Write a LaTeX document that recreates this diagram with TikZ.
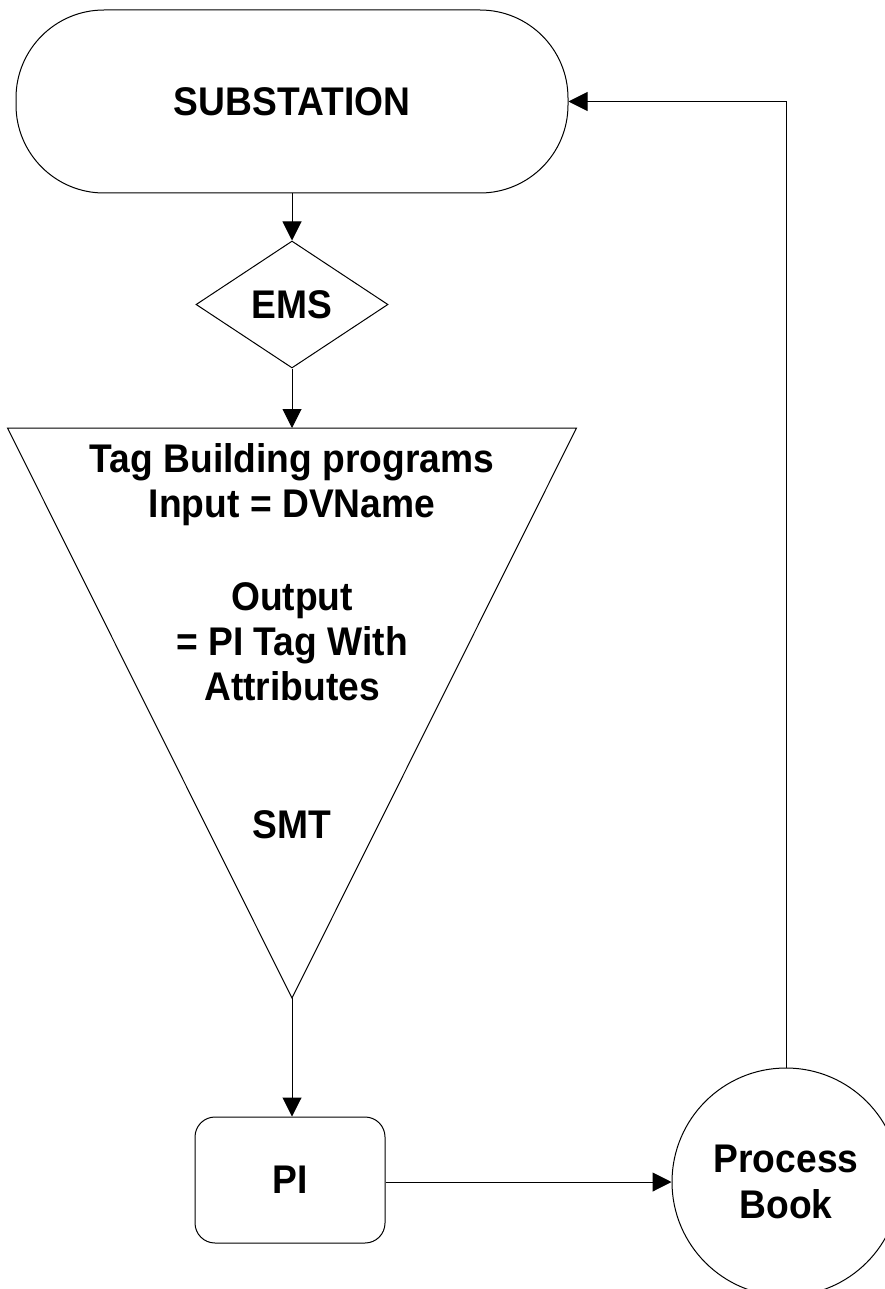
\documentclass[tikz,border=0pt]{standalone}
\usepackage{fontspec}
\newfontfamily\lab{Liberation Sans}[FakeStretch=0.93]
\usetikzlibrary{shapes.geometric,arrows.meta}
\begin{document}
\begin{tikzpicture}[x=1pt,y=-1pt,
  every node/.style={font=\lab\bfseries\fontsize{40}{46}\selectfont, text=black},
  shapeline/.style={draw=black,line width=1pt},
  conn/.style={draw=black,line width=1pt},
  arr/.style={conn,-{Triangle[length=19pt,width=19pt]}},
  lbl/.style={anchor=base, inner sep=0pt}
]
\useasboundingbox (0,0) rectangle (884,1289);
% shapes
\node[shapeline, rounded corners=88pt, minimum width=552pt, minimum height=183pt, inner sep=0pt] (sub) at (292,101.5) {SUBSTATION};
\node[shapeline, diamond, minimum width=192pt, minimum height=127pt, inner sep=0pt] (ems) at (292,304.5) {EMS};
\coordinate (tl) at (7.5,428);
\coordinate (tr) at (576.5,428);
\coordinate (tb) at (292,998);
\coordinate (ttop) at (292,428);
\draw[shapeline] (tl) -- (tr) -- (tb) -- cycle;
\node[lbl] (t1) at (292,472) {Tag Building programs};
\node[lbl] (t2) at (292,517) {Input = DVName};
\node[lbl] (t3) at (292,610) {Output};
\node[lbl] (t4) at (292,655) {= PI Tag With};
\node[lbl] (t5) at (292,700) {Attributes};
\node[lbl] (t6) at (292,838) {SMT};
\node[shapeline, rounded corners=20pt, minimum width=190pt, minimum height=126pt] (pi) at (290,1180) {PI};
\node[shapeline, circle, minimum size=228pt, align=center, inner sep=0pt] (pb) at (786,1182) {Process\\Book};
% connectors
\draw[arr] (sub.south) -- (ems.north);
\draw[arr] (ems.south) -- (ttop);
\draw[arr] (tb) -- (tb |- pi.north);
\draw[arr] (pb.west -| pi.east) -- (pb.west);
\draw[arr] (pb.north) |- (sub.east);
\end{tikzpicture}
\end{document}
